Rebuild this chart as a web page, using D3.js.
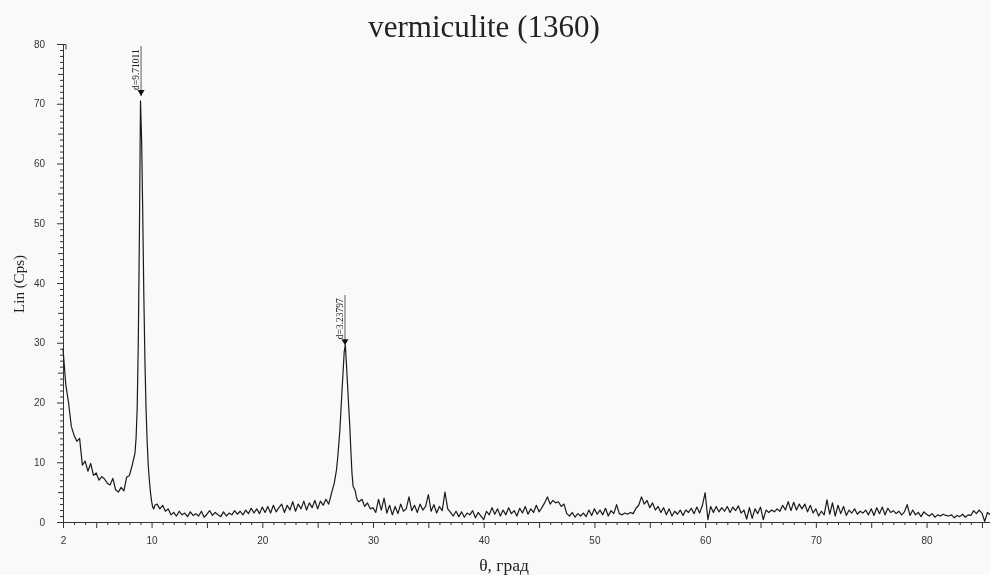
<!DOCTYPE html>
<head>
  <meta charset="utf-8">
  <script src="https://d3js.org/d3.v7.min.js"></script>
  <style>
    body {
      margin:0;position:fixed;top:0;right:0;bottom:0;left:0;
      background-color: #f9f9f8;
    }
    .axis text {
      font-family: "Liberation Sans", Arial, sans-serif;
      font-size: 10px;
      fill: #333;
    }
    .axis path, .axis line {
      stroke: #333;
    }
    .serif {
      font-family: "Liberation Serif", "Times New Roman", serif;
      fill: #222;
    }
  </style>
</head>

<body>
  <script>
    // scan, 2 theta from 2 to 86 step 0.25
    var scanStart = 2, scanStep = 0.25;
    var lin = [
      29, 23, 20, 16,
      14.5, 13.5, 14, 9.5,
      10.2, 8.5, 9.8, 7.8,
      8.2, 7.0, 7.6, 7.2,
      6.5, 6.2, 7.3, 5.4,
      5.0, 5.8, 5.2, 7.5,
      7.8, 9.5, 11.5, 30,
      69, 38, 19, 9.5,
      3.5, 2.2, 3.0, 2.2,
      2.8, 1.8, 2.2, 1.2,
      1.6, 1.0, 1.8, 1.2,
      1.5, 0.9, 1.7, 1.1,
      1.4, 1.0, 1.8, 0.8,
      1.3, 1.9, 1.1, 1.6,
      1.2, 0.9, 1.7, 1.0,
      1.5, 1.2, 1.9, 1.3,
      1.8, 1.2, 2.0, 1.4,
      2.3, 1.5, 2.2, 1.4,
      2.5, 1.6, 2.6, 1.5,
      2.8, 1.7, 2.4, 3.0,
      1.6, 2.8, 2.0, 3.4,
      1.8, 3.0, 2.2, 3.5,
      2.0, 3.2, 2.4, 3.6,
      2.2, 3.5, 2.8, 3.8,
      3.0, 4.8, 6.5, 9.5,
      15, 24, 29, 23,
      12, 5.6, 4.2, 3.4,
      3.8, 2.6, 3.2, 2.2,
      2.4, 1.6, 3.8, 2.0,
      4.0, 1.5, 2.8, 1.2,
      2.6, 1.4, 3.0, 1.8,
      2.2, 4.2, 1.9, 2.8,
      1.6, 3.0, 2.0, 2.6,
      4.6, 1.8, 2.9, 1.5,
      2.6, 1.9, 5.0, 2.2,
      1.6, 1.0, 1.8, 0.9,
      1.7, 0.8, 1.5, 1.2,
      1.9, 0.7, 1.6, 1.0,
      0.4, 1.8, 1.2, 2.4,
      1.3, 2.2, 1.0, 2.0,
      1.2, 2.4, 1.4, 1.9,
      1.0, 2.3, 1.5, 2.6,
      1.3, 2.2, 1.6, 2.8,
      1.7, 2.4, 3.2, 4.2,
      3.0, 3.6, 3.2, 3.4,
      2.6, 3.0, 1.4, 1.0,
      1.6, 0.8, 1.4, 1.0,
      1.5, 0.9, 2.0, 1.1,
      2.2, 1.3, 2.0, 1.2,
      2.3, 1.0, 1.9, 1.4,
      2.9, 1.4, 1.2, 1.5,
      1.3, 1.6, 1.4, 2.3,
      2.8, 4.2, 3.0, 3.6,
      2.4, 3.2, 2.0, 2.6,
      1.6, 2.4, 1.2, 2.2,
      1.0, 1.8, 1.3, 2.0,
      1.1, 2.0, 1.6, 2.3,
      1.4, 2.5, 1.5, 2.8,
      4.9, 0.4, 2.6, 1.6,
      2.6, 1.7, 2.4, 1.8,
      2.6, 1.6, 2.5, 1.9,
      2.7, 1.5, 2.0, 0.5,
      2.4, 0.6, 2.2, 1.4,
      2.5, 0.4, 2.0, 1.6,
      2.0, 1.7, 2.2, 1.8,
      2.8, 2.0, 3.4, 1.9,
      3.3, 2.0, 3.0, 2.2,
      3.0, 1.7, 2.8, 1.5,
      2.2, 1.0, 1.8, 1.2,
      3.7, 1.3, 3.2, 1.0,
      2.8, 1.4, 2.6, 1.1,
      2.0, 1.5, 2.2, 1.3,
      1.8, 1.5, 2.0, 1.2,
      2.2, 1.1, 2.4, 1.4,
      2.5, 1.2, 2.3, 1.6,
      1.9, 1.4, 1.8, 1.2,
      1.7, 2.9, 1.1, 2.0,
      1.2, 1.6, 0.9, 1.7,
      1.3, 1.0, 1.4, 0.8,
      1.2, 1.0, 1.3, 1.1,
      1.0, 1.2, 0.7, 1.1,
      0.9, 1.3, 0.8, 1.2,
      1.1, 1.9, 1.4, 2.0,
      1.5, 0.1, 1.6, 1.2,
      1.4
    ];

    // finer steps over the two reflections (step 0.1)
    var peak1Start = 8.5, peak1 = [11.5, 14, 19, 30, 48, 70.5, 64, 52, 38, 27, 19, 13.5, 9.5, 7, 5, 3.5, 2.5, 2.2, 2.8];
    var peak2Start = 26.5, peak2 = [6.5, 7.6, 8.7, 10.5, 12.8, 15.2, 18.5, 22, 25.2, 28.5, 29.6, 26.5, 23, 19.5, 16.2, 12, 8.2, 6.0, 5.6, 5.2, 4.2, 3.6];
    var fineStep = 0.1;

    var peakLabels = ["d=9.71011", "d=3.23797"];
    var peakTheta = [9.05, 27.47];
    var peakLin = [71.3, 29.6];

    var xLabelTicks = [2, 10, 20, 30, 40, 50, 60, 70, 80];
    var yLabelTicks = [0, 10, 20, 30, 40, 50, 60, 70, 80];

    var svg = d3.select("body").append("svg")
      .attr("width", 990)
      .attr("height", 575)

    var x = d3.scaleLinear().domain([2, 86]).range([63, 993])
    var y = d3.scaleLinear().domain([0, 80]).range([522, 44])

    // merge coarse scan with fine peak segments
    var segs = [
      {start: peak1Start, vals: peak1},
      {start: peak2Start, vals: peak2}
    ];
    var pts = [];
    lin.forEach(function(v, i) {
      var t = scanStart + i * scanStep;
      var inside = segs.some(function(s) {
        return t >= s.start - 1e-6 && t <= s.start + (s.vals.length - 1) * fineStep + 1e-6;
      });
      if (!inside) pts.push([t, v]);
    });
    segs.forEach(function(s) {
      s.vals.forEach(function(v, i) { pts.push([s.start + i * fineStep, v]); });
    });
    pts.sort(function(a, b) { return a[0] - b[0]; });

    // axes
    var xAxis = d3.axisBottom(x)
      .tickValues(d3.range(2, 87))
      .tickFormat(function(d) { return xLabelTicks.indexOf(d) >= 0 ? d : ""; })
      .tickSizeOuter(0)
      .tickPadding(12);

    var gx = svg.append("g")
      .attr("class", "axis")
      .attr("transform", "translate(0,522)")
      .call(xAxis);
    gx.selectAll(".tick line").attr("y2", function(d) { return d % 5 === 0 || d === 2 ? 6 : 3; });
    gx.selectAll(".tick text").attr("y", 15);

    var yAxis = d3.axisLeft(y)
      .tickValues(d3.range(0, 81))
      .tickFormat(function(d) { return yLabelTicks.indexOf(d) >= 0 ? d : ""; })
      .tickSizeOuter(0);

    var gy = svg.append("g")
      .attr("class", "axis")
      .attr("transform", "translate(63,0)")
      .call(yAxis);
    gy.selectAll(".tick line").attr("x2", function(d) { return d % 10 === 0 ? -6 : d % 5 === 0 ? -5 : -3; });
    gy.selectAll(".tick text").attr("x", -18);

    // little mark at top of the y axis
    svg.append("path")
      .attr("d", "M63," + (y(80) + 0.5) + "l3,0 l0,5")
      .attr("fill", "none")
      .attr("stroke", "#333")

    // the scan
    var line = d3.line()
      .x(function(d) { return x(d[0]); })
      .y(function(d) { return y(d[1]); });

    svg.append("path")
      .datum(pts)
      .attr("d", line)
      .attr("fill", "none")
      .attr("stroke", "#1a1a1a")
      .attr("stroke-width", 1.2)
      .attr("stroke-linejoin", "round")

    // peak markers
    var marks = svg.selectAll(".peak")
      .data(peakLabels)
      .enter().append("g")
      .attr("class", "peak")
      .attr("transform", function(d, i) { return "translate(" + x(peakTheta[i]) + "," + y(peakLin[i]) + ")"; })

    marks.append("line")
      .attr("x1", 0).attr("x2", 0)
      .attr("y1", -50).attr("y2", 0)
      .attr("stroke", "#333")
      .attr("stroke-width", 0.8)

    marks.append("path")
      .attr("d", "M-3.5,-6L3.5,-6L0,0Z")
      .attr("fill", "#111")

    marks.append("text")
      .attr("class", "serif")
      .attr("transform", "translate(-2,-6) rotate(-90)")
      .attr("font-size", 9.5)
      .attr("text-anchor", "start")
      .text(function(d) { return d; })

    // titles
    svg.append("text")
      .attr("class", "serif")
      .attr("x", 484)
      .attr("y", 37)
      .attr("text-anchor", "middle")
      .attr("font-size", 31)
      .text("vermiculite (1360)")

    svg.append("text")
      .attr("class", "serif")
      .attr("transform", "translate(24,284) rotate(-90)")
      .attr("text-anchor", "middle")
      .attr("font-size", 15)
      .text("Lin (Cps)")

    svg.append("text")
      .attr("class", "serif")
      .attr("x", 504)
      .attr("y", 571)
      .attr("text-anchor", "middle")
      .attr("font-size", 17.5)
      .text("θ, град")
  </script>
</body>
